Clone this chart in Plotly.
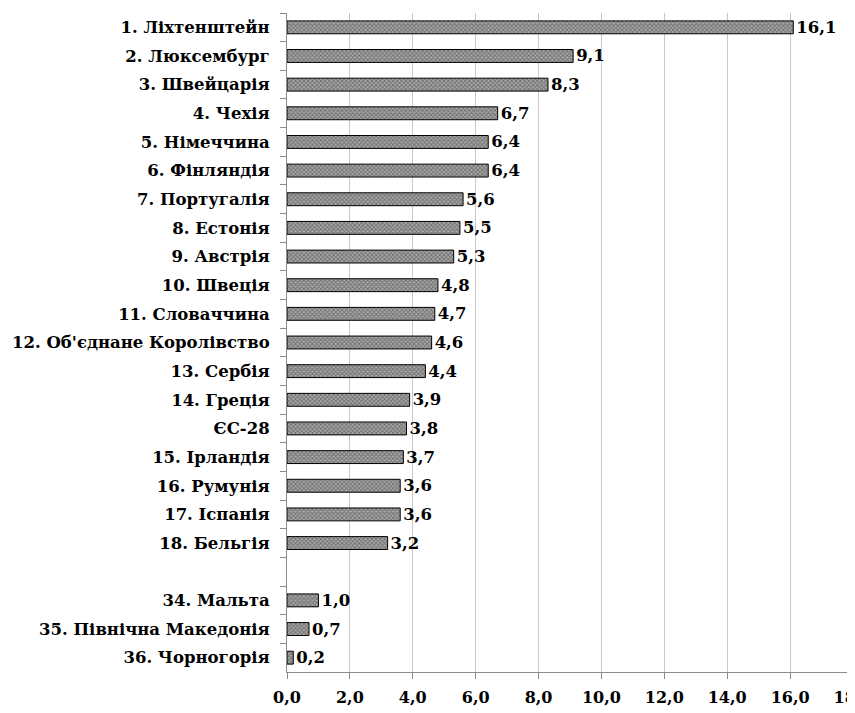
import plotly.graph_objects as go

categories = ["1. Ліхтенштейн", "2. Люксембург", "3. Швейцарія", "4. Чехія",
              "5. Німеччина", "6. Фінляндія", "7. Португалія", "8. Естонія",
              "9. Австрія", "10. Швеція", "11. Словаччина",
              "12. Об'єднане Королівство", "13. Сербія", "14. Греція", "ЄС-28",
              "15. Ірландія", "16. Румунія", "17. Іспанія", "18. Бельгія", " ",
              "34. Мальта", "35. Північна Македонія", "36. Чорногорія"]
values = [16.1, 9.1, 8.3, 6.7, 6.4, 6.4, 5.6, 5.5, 5.3, 4.8, 4.7, 4.6, 4.4, 3.9,
          3.8, 3.7, 3.6, 3.6, 3.2, None, 1.0, 0.7, 0.2]
x_ticks = [0, 2, 4, 6, 8, 10, 12, 14, 16, 18]

serif = "DejaVu Serif"

fig = go.Figure(go.Bar(
    x=values, y=categories, orientation="h",
    marker=dict(color="white",
                line=dict(color="black", width=1),
                pattern=dict(shape="x", size=3, solidity=0.5,
                             fgcolor="#333", bgcolor="#aaa")),
    texttemplate="<b>%{x:.1f}</b>", textposition="outside",
    constraintext="none",
    textfont=dict(family=serif, size=16.5, color="black"),
    cliponaxis=False, width=0.45,
))

fig.update_layout(
    width=847, height=705,
    margin=dict(l=279, r=2, t=5, b=41),
    plot_bgcolor="white", paper_bgcolor="white",
    separators=", ",
    showlegend=False,
    font=dict(family=serif, size=16, color="black"),
)
fig.update_xaxes(
    range=[0, 18], tickvals=x_ticks, tickformat=".1f",
    showgrid=True, gridcolor="#c8c8c8", gridwidth=1,
    showline=True, linecolor="#8c8c8c", linewidth=1,
    ticks="outside", ticklen=6, tickcolor="#8c8c8c",
    tickfont=dict(family=serif, size=16, color="black", weight="bold"),
    ticklabelstandoff=5,
    zeroline=False, automargin=False, ticklabeloverflow="allow",
)
fig.update_yaxes(
    type="category", categoryorder="array", categoryarray=categories,
    autorange="reversed",
    showline=True, linecolor="#8c8c8c", linewidth=1,
    ticks="outside", ticklen=6, tickcolor="#8c8c8c", tickson="boundaries",
    showgrid=False, automargin=False, ticklabelstandoff=13,
    tickfont=dict(family=serif, size=16.5, color="black", weight="bold"),
)

fig.write_html("out.html")
